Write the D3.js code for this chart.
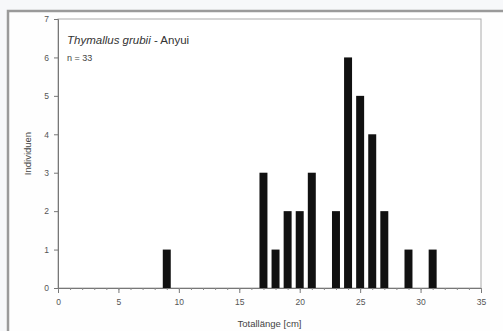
<!DOCTYPE html>
<html>
<head>
<meta charset="utf-8">
<script src="https://cdn.jsdelivr.net/npm/d3@7"></script>
<style>
  body { margin: 0; background: #f7f8fa; }
  svg { display: block; font-family: Arial, "Liberation Sans", sans-serif; }
  .tick-label { fill: #555; font-size: 8.5px; }
</style>
</head>
<body>
<script>
// length classes (cm) and number of fish per class
var lengths = [9, 17, 18, 19, 20, 21, 23, 24, 25, 26, 27, 29, 31];
var counts  = [1, 3, 1, 2, 2, 3, 2, 6, 5, 4, 2, 1, 1];
var xTicks = [0, 5, 10, 15, 20, 25, 30, 35];
var yTicks = [0, 1, 2, 3, 4, 5, 6, 7];

var svg_width = 503;
var svg_height = 331;

var data = lengths.map((d, i) => ({len: d, n: counts[i]}));

var svg = d3.select('body').append('svg')
  .attr('width', svg_width)
  .attr('height', svg_height);

// outer frame (right and bottom run off the picture)
svg.append('rect')
  .attr('x', 8).attr('y', 11)
  .attr('width', 520).attr('height', 340)
  .attr('fill', '#fefefe')
  .attr('stroke', '#9a9a9a')
  .attr('stroke-width', 2.5);

// plot area ("top" is taken by window.top, so use plot_* names)
var plot_left = 58, plot_right = 481, plot_top = 19, plot_bottom = 288;

var xScale = d3.scaleLinear().domain([0, 35]).range([plot_left, plot_right]);
var yScale = d3.scaleLinear().domain([0, 7]).range([plot_bottom, plot_top]);

svg.append('rect')
  .attr('x', plot_left).attr('y', plot_top)
  .attr('width', plot_right - plot_left).attr('height', plot_bottom - plot_top)
  .attr('fill', '#fff')
  .attr('stroke', '#aaa')
  .attr('stroke-width', 1);

// bars, centred on each length class
var unit = xScale(1) - xScale(0);
var barW = unit * 0.66;
svg.selectAll('.bar')
  .data(data)
  .enter()
  .append('rect')
  .attr('class', 'bar')
  .attr('x', d => xScale(d.len) - barW / 2)
  .attr('y', d => yScale(d.n))
  .attr('width', barW)
  .attr('height', d => yScale(0) - yScale(d.n))
  .attr('fill', '#111');

// x axis: major ticks every 5, minor every 1
var xaxis = d3.axisBottom(xScale).tickValues(xTicks).tickFormat(d3.format('d')).tickSize(5).tickPadding(6);
var gx = svg.append('g')
  .attr('transform', 'translate(0,' + plot_bottom + ')')
  .call(xaxis);
gx.select('.domain').attr('stroke', '#777');
gx.selectAll('.tick line').attr('stroke', '#777');
gx.selectAll('.tick text').attr('class', 'tick-label').attr('font-size', null).attr('font-family', null);

var minorAxis = d3.axisBottom(xScale).tickValues(d3.range(0, 36)).tickSize(2).tickFormat('');
var gm = svg.append('g')
  .attr('transform', 'translate(0,' + plot_bottom + ')')
  .call(minorAxis);
gm.select('.domain').remove();
gm.selectAll('.tick line').attr('stroke', '#888');

// y axis
var yaxis = d3.axisLeft(yScale).tickValues(yTicks).tickFormat(d3.format('d')).tickSize(4).tickPadding(5);
var gy = svg.append('g')
  .attr('transform', 'translate(' + plot_left + ',0)')
  .call(yaxis);
gy.select('.domain').attr('stroke', '#777');
gy.selectAll('.tick line').attr('stroke', '#777');
gy.selectAll('.tick text').attr('class', 'tick-label').attr('font-size', null).attr('font-family', null);

// title inside the plot
var title = svg.append('text')
  .attr('x', 67).attr('y', 44)
  .attr('font-size', '11.5px')
  .attr('fill', '#333');
title.append('tspan').attr('font-style', 'italic').text('Thymallus grubii');
title.append('tspan').text(' - Anyui');

svg.append('text')
  .attr('x', 67).attr('y', 61)
  .attr('font-size', '9px')
  .attr('fill', '#444')
  .text('n = 33');

// axis titles
svg.append('text')
  .attr('x', (plot_left + plot_right) / 2)
  .attr('y', 327)
  .attr('text-anchor', 'middle')
  .attr('font-size', '9.5px')
  .attr('fill', '#444')
  .text('Totallänge [cm]');

svg.append('text')
  .attr('text-anchor', 'middle')
  .attr('transform', 'translate(31,' + ((plot_top + plot_bottom) / 2) + ') rotate(-90)')
  .attr('font-size', '9.5px')
  .attr('fill', '#444')
  .text('Individuen');
</script>
</body>
</html>
